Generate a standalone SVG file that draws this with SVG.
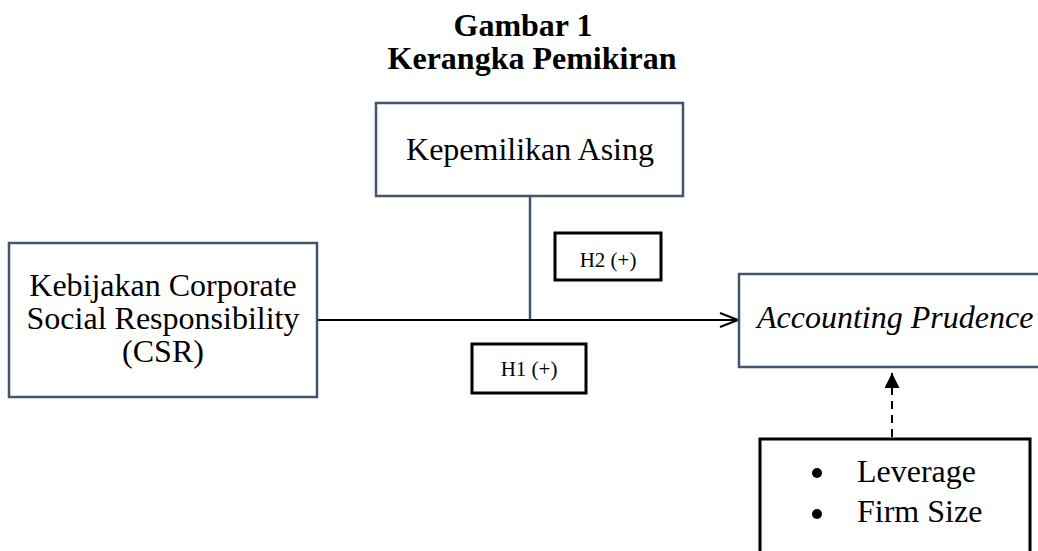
<svg xmlns="http://www.w3.org/2000/svg" width="1038" height="551" viewBox="0 0 1038 551">
<style>
text{font-family:"Liberation Serif","Times New Roman",serif;fill:#000}
.title{font-size:32px;font-weight:bold;text-anchor:middle}
.lbl{font-size:32px;text-anchor:middle}
.h{font-size:21px;text-anchor:middle}
.box{fill:#fff;stroke:#44546a;stroke-width:2.5}
.bbox{fill:#fff;stroke:#000;stroke-width:3}
.conn{stroke:#000;stroke-width:2;fill:none}
</style>
<defs>
<marker id="open" viewBox="0 0 20 16" refX="19" refY="8" markerWidth="20" markerHeight="16" markerUnits="userSpaceOnUse" orient="auto"><path d="M1,1 L19,8 L1,15" fill="none" stroke="#000" stroke-width="2"/></marker>
<marker id="solid" viewBox="0 0 16 15" refX="15" refY="7.5" markerWidth="16" markerHeight="15" markerUnits="userSpaceOnUse" orient="auto"><path d="M0,0 L15,7.5 L0,15 Z" fill="#000"/></marker>
</defs>
<g id="title">
<text class="title" x="523" y="36">Gambar 1</text>
<text class="title" x="532" y="69">Kerangka Pemikiran</text>
</g>
<g id="connectors">
<line x1="530" y1="196" x2="530" y2="320" stroke="#44546a" stroke-width="2.5"/>
<line class="conn" x1="317" y1="320" x2="738" y2="320" marker-end="url(#open)"/>
<line class="conn" x1="892" y1="437" x2="892" y2="373" stroke-dasharray="8,6" marker-end="url(#solid)"/>
</g>
<g id="node-asing">
<rect class="box" x="376" y="103" width="307" height="93"/>
<text class="lbl" x="530" y="160">Kepemilikan Asing</text>
</g>
<g id="node-csr">
<rect class="box" x="9" y="243" width="308" height="154"/>
<text class="lbl" x="163" y="296">Kebijakan Corporate</text>
<text class="lbl" x="163" y="329">Social Responsibility</text>
<text class="lbl" x="163" y="362">(CSR)</text>
</g>
<g id="node-h2">
<rect class="bbox" x="555" y="233" width="106" height="47" stroke-width="2.5"/>
<text class="h" x="608" y="267">H2 (+)</text>
</g>
<g id="node-h1">
<rect class="bbox" x="472" y="344" width="114" height="49" stroke-width="2.5"/>
<text class="h" x="529" y="376">H1 (+)</text>
</g>
<g id="node-prudence">
<rect class="box" x="739" y="274" width="320" height="93"/>
<text class="lbl" x="757" y="328" style="text-anchor:start;font-style:italic">Accounting Prudence</text>
</g>
<g id="node-control">
<rect class="bbox" x="760" y="439" width="270" height="130"/>
<circle cx="817" cy="473" r="5"/>
<circle cx="817" cy="514" r="5"/>
<text class="lbl" x="857" y="482" style="text-anchor:start">Leverage</text>
<text class="lbl" x="857" y="522" style="text-anchor:start">Firm Size</text>
</g>
</svg>
